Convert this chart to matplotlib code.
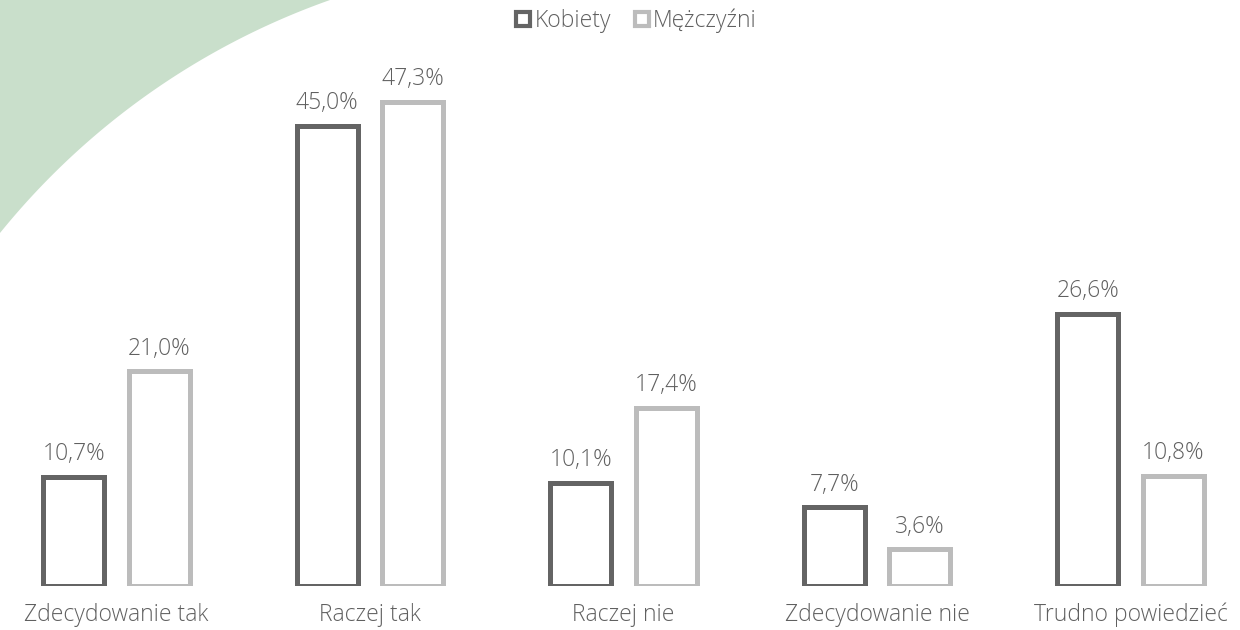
import numpy as np
import matplotlib
matplotlib.use("Agg")
import matplotlib.pyplot as plt
from matplotlib.lines import Line2D
from matplotlib.patches import Polygon

categories = ["Zdecydowanie tak", "Raczej tak", "Raczej nie", "Zdecydowanie nie", "Trudno powiedzieć"]
kobiety = [10.7, 45.0, 10.1, 7.7, 26.6]
mezczyzni = [21.0, 47.3, 17.4, 3.6, 10.8]
series_names = ["Kobiety", "Mężczyźni"]

DARK = "#646464"
LIGHT = "#bcbcbc"
TEXT = "#606060"
GREEN = "#c9dfcb"

plt.rcParams['font.family'] = ['Open Sans', 'DejaVu Sans']

W, H = 1240, 630
fig = plt.figure(figsize=(W / 100, H / 100), dpi=100)

# decorative green shape in top-left corner (figure pixel coords)
cx, cy, r = 577.4, 700.6, 743.0
a0 = np.arctan2(0 - cy, 330 - cx)
a1 = np.arctan2(233 - cy, 0 - cx)
ang = np.linspace(a0, a1, 300)
arc = np.column_stack([cx + r * np.cos(ang), cy + r * np.sin(ang)])
pts = np.vstack([[[0, 0]], arc])
pts_fig = np.column_stack([pts[:, 0] / W, 1 - pts[:, 1] / H])
fig.patches.append(Polygon(pts_fig, closed=True, transform=fig.transFigure,
                           facecolor=GREEN, edgecolor="none", zorder=0))

base_px = 586
ax = fig.add_axes([0, (H - base_px) / H, 1, base_px / H])
ax.patch.set_alpha(0)
spacing = 253.5
c0 = 116.5
ax.set_xlim(-c0 / spacing, (W - c0) / spacing)
px_per = 10.23
ax.set_ylim(0, base_px / px_per)

x = np.arange(len(categories))
off = 0.169
w = 0.24
b1 = ax.bar(x - off, kobiety, width=w, facecolor="white", edgecolor=DARK, linewidth=3.6, zorder=2)
b2 = ax.bar(x + off, mezczyzni, width=w, facecolor="white", edgecolor=LIGHT, linewidth=3.6, zorder=2)

for bars, vals in ((b1, kobiety), (b2, mezczyzni)):
    for rect, v in zip(bars, vals):
        ax.annotate(f"{v:.1f}%".replace(".", ","),
                    (rect.get_x() + rect.get_width() / 2, v),
                    xytext=(0, 12), textcoords="offset points",
                    ha="center", va="baseline", fontsize=16.5, color=TEXT,
                    fontweight="light")

for xi, c in zip(x, categories):
    ax.annotate(c, (xi, 0), xytext=(0, -25.5), textcoords="offset points",
                ha="center", va="baseline", fontsize=16.5, color=TEXT, fontweight="light",
                annotation_clip=False)

ax.axis("off")

handles = [Line2D([], [], linestyle="none", marker="s", markersize=9.5,
                  markerfacecolor="white", markeredgecolor=DARK, markeredgewidth=3),
           Line2D([], [], linestyle="none", marker="s", markersize=9.5,
                  markerfacecolor="white", markeredgecolor=LIGHT, markeredgewidth=3)]
leg = fig.legend(handles, series_names, loc="center", bbox_to_anchor=(636 / W, 1 - 21 / H),
                 ncol=2, frameon=False, handlelength=0.72, handletextpad=0.15,
                 columnspacing=0.95, borderpad=0, prop={"size": 16.5, "weight": "light"})
for t in leg.get_texts():
    t.set_color(TEXT)

fig.savefig("out.png", dpi=100)
